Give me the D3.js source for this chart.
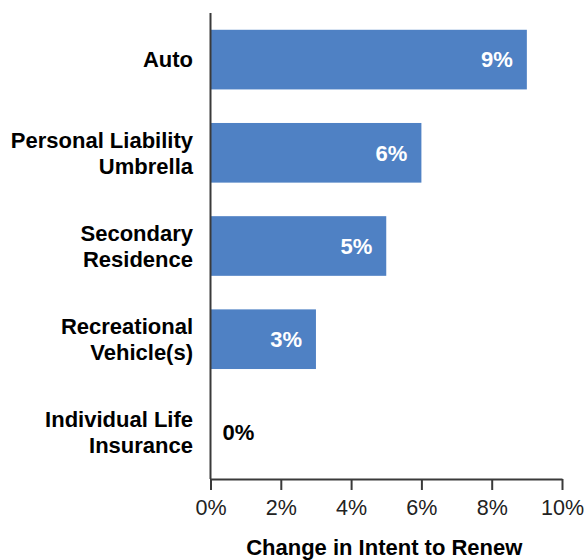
<!DOCTYPE html>
<html>
<head>
<meta charset="utf-8">
<script src="https://cdn.jsdelivr.net/npm/d3@7"></script>
<style>
  html, body { margin: 0; padding: 0; background: #fff; }
  svg { display: block; font-family: "Liberation Sans", Arial, sans-serif; }
</style>
</head>
<body>
<svg id="chart" width="585" height="560"></svg>
<script>
// Insurance lines and their change in intent to renew (percent)
const categories = [
  ["Auto"],
  ["Personal Liability", "Umbrella"],
  ["Secondary", "Residence"],
  ["Recreational", "Vehicle(s)"],
  ["Individual Life", "Insurance"]
];
const values = [9, 6, 5, 3, 0];
const tickValues = [0, 2, 4, 6, 8, 10];
const axisTitle = "Change in Intent to Renew";

const svg = d3.select("#chart");
const margin = { left: 210.5, right: 23, top: 13, bottom: 81 };
const W = 585, H = 560;
const FS = 22;

const x = d3.scaleLinear().domain([0, 10]).range([margin.left, W - margin.right]);
const y = d3.scaleBand().domain(d3.range(categories.length))
  .range([margin.top, H - margin.bottom]).paddingInner(0.36).paddingOuter(0.18);

// Bars
svg.append("g").selectAll("rect").data(values).join("rect")
  .attr("x", x(0))
  .attr("y", (d, i) => y(i))
  .attr("width", d => x(d) - x(0))
  .attr("height", y.bandwidth())
  .attr("fill", "#4f81c4");

// Value labels: white inside the bar, black beside the axis when empty
svg.append("g").selectAll("text").data(values).join("text")
  .attr("x", d => d > 0 ? x(d) - 14 : x(0) + 12)
  .attr("y", (d, i) => y(i) + y.bandwidth() / 2)
  .attr("dy", "0.35em")
  .attr("text-anchor", d => d > 0 ? "end" : "start")
  .attr("fill", d => d > 0 ? "#fff" : "#000")
  .style("font-size", FS + "px")
  .style("font-weight", "bold")
  .text(d => d + "%");

// Category labels
const cat = svg.append("g").selectAll("text").data(categories).join("text")
  .attr("text-anchor", "end")
  .style("font-size", FS + "px")
  .style("font-weight", "bold")
  .attr("fill", "#000");
cat.each(function(lines, i) {
  const cy = y(i) + y.bandwidth() / 2;
  const lh = 26;
  const start = cy - (lines.length - 1) * lh / 2;
  d3.select(this).selectAll("tspan").data(lines).join("tspan")
    .attr("x", 193)
    .attr("y", (l, j) => start + j * lh)
    .attr("dy", "0.35em")
    .text(l => l);
});

// X axis
const xAxis = svg.append("g")
  .attr("transform", `translate(0,${H - margin.bottom})`)
  .call(d3.axisBottom(x).tickValues(tickValues).tickSize(11).tickPadding(10)
    .tickFormat(d => d + "%").tickSizeOuter(0));
xAxis.select(".domain").attr("stroke", "#3a3a3a").attr("stroke-width", 2);
xAxis.selectAll(".tick line").attr("stroke", "#3a3a3a").attr("stroke-width", 2);
xAxis.selectAll(".tick text").style("font-size", "21.5px").attr("fill", "#222")
  .style("font-family", "'Liberation Sans', Arial, sans-serif");

// Y axis line
svg.append("line")
  .attr("x1", x(0)).attr("x2", x(0))
  .attr("y1", margin.top).attr("y2", H - margin.bottom)
  .attr("stroke", "#3a3a3a").attr("stroke-width", 2);

// Axis title
svg.append("text")
  .attr("x", (x(0) + x(10)) / 2 - 2)
  .attr("y", 555)
  .attr("text-anchor", "middle")
  .style("font-size", FS + "px")
  .style("font-weight", "bold")
  .text(axisTitle);
</script>
</body>
</html>
